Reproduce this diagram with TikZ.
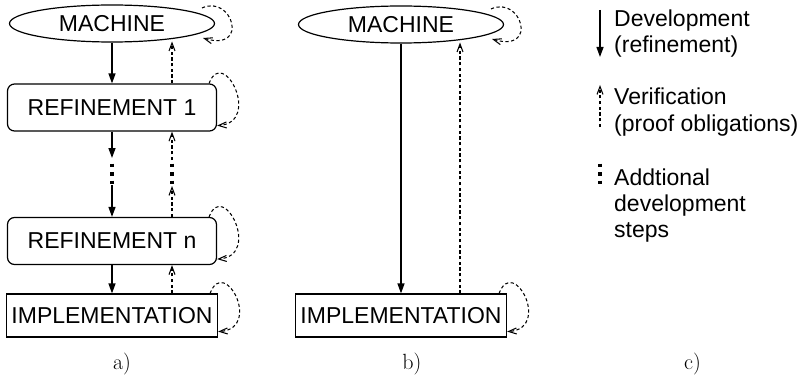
\documentclass[tikz,border=0pt]{standalone}
\usepackage{fontspec}
\newfontfamily\helv{Liberation Sans}
\usetikzlibrary{arrows.meta,shapes.geometric}

\tikzset{
  box/.style={draw, line width=1.2pt, font=\helv\fontsize{23}{27}\selectfont,
    inner sep=0pt, minimum width=209pt},
  spec/.style={box, ellipse, minimum width=205pt, minimum height=37pt},
  refbox/.style={box, rounded corners=7pt, minimum height=47pt},
  implbox/.style={box, minimum width=211pt, minimum height=43pt},
  devel/.style={line width=1.3pt, -{Triangle[length=10pt,width=7pt]}},
  verif/.style={line width=1.05pt, dash pattern=on 3.2pt off 2.5pt,
    -{Straight Barb[length=8pt,width=6pt]}},
  moresteps/.style={line width=3.5pt, dash pattern=on 3.5pt off 5pt},
  selfloop/.style={verif},
  legtext/.style={font=\helv\fontsize{23}{26}\selectfont, anchor=base west, inner sep=0pt},
  caption/.style={font=\fontsize{22}{26}\selectfont, anchor=base, inner sep=0pt}
}

\begin{document}
\begin{tikzpicture}[x=1pt,y=-1pt]
\useasboundingbox (0,0) rectangle (802,377);

% ---------- a) stepwise refinement ----------
\node[spec]    (ma) at (112,23.5)  {MACHINE};
\node[refbox]  (r1) at (112,107.5) {REFINEMENT 1};
\node[refbox]  (rn) at (112,241)   {REFINEMENT n};
\node[implbox] (ia) at (112,315.5) {IMPLEMENTATION};

% development (left column)
\draw[devel] (ma) -- (r1);
\coordinate (da1) at (112,158);
\coordinate (da2) at (112,185);
\draw[devel] (r1.south) -- (da1);
\draw[moresteps] (112,163.5) -- (112,184);
\draw[devel] (da2) -- (rn.north);
\draw[devel] (rn) -- (ia);

% verification (right column)
\coordinate (va1) at (172,186);
\coordinate (va2) at (172,160);
\draw[verif] ([xshift=60pt]ia.north) -- ([xshift=60pt]rn.south);
\draw[verif] ([xshift=60pt]rn.north) -- (va1);
\draw[moresteps] (172,163.5) -- (172,184);
\draw[verif] (va2) -- ([xshift=60pt]r1.south);
\draw[verif] ([xshift=60pt]r1.north) -- (172,41.5);

% self loops
\draw[selfloop] ([shift={(90,-15.5)}]ma.center) .. controls +(30,-14) and +(47,14) .. ([shift={(91,14.5)}]ma.center);
\draw[selfloop] ([xshift=-8pt]r1.north east) .. controls +(14,-38) and +(45,-3) .. ([yshift=6pt]r1.south east);
\draw[selfloop] ([xshift=-8pt]rn.north east) .. controls +(14,-38) and +(45,-3) .. ([yshift=6pt]rn.south east);
\draw[selfloop] ([xshift=-8pt]ia.north east) .. controls +(14,-38) and +(45,-3) .. ([yshift=6pt]ia.south east);

\node[caption] (capa) at (122,369) {a)};

% ---------- b) direct implementation ----------
\node[spec]    (mb) at (401,24.5)  {MACHINE};
\node[implbox] (ib) at (401,315.5) {IMPLEMENTATION};
\draw[devel] (mb) -- (ib);
\draw[verif] ([xshift=59pt]ib.north) -- (460,42.5);
\draw[selfloop] ([shift={(90,-15.5)}]mb.center) .. controls +(30,-14) and +(47,14) .. ([shift={(91,14.5)}]mb.center);
\draw[selfloop] ([xshift=-8pt]ib.north east) .. controls +(14,-38) and +(45,-3) .. ([yshift=6pt]ib.south east);

\node[caption] (capb) at (412,369) {b)};

% ---------- c) legend ----------
\coordinate (l1a) at (600,10);
\coordinate (l1b) at (600,57);
\draw[devel] (l1a) -- (l1b);
\node[legtext] (t11) at (614,27)  {Development};
\node[legtext] (t12) at (614,53)  {(refinement)};

\coordinate (l2a) at (600,127);
\coordinate (l2b) at (600,85);
\draw[verif] (l2a) -- (l2b);
\node[legtext] (t21) at (614,105) {Verification};
\node[legtext] (t22) at (614,131) {(proof obligations)};

\coordinate (l3a) at (600,163.5);
\coordinate (l3b) at (600,184);
\draw[moresteps] (l3a) -- (l3b);
\node[legtext] (t31) at (614,185) {Addtional};
\node[legtext] (t32) at (614,211) {development};
\node[legtext] (t33) at (614,237) {steps};

\node[caption] (capc) at (692.5,369) {c)};
\end{tikzpicture}
\end{document}
